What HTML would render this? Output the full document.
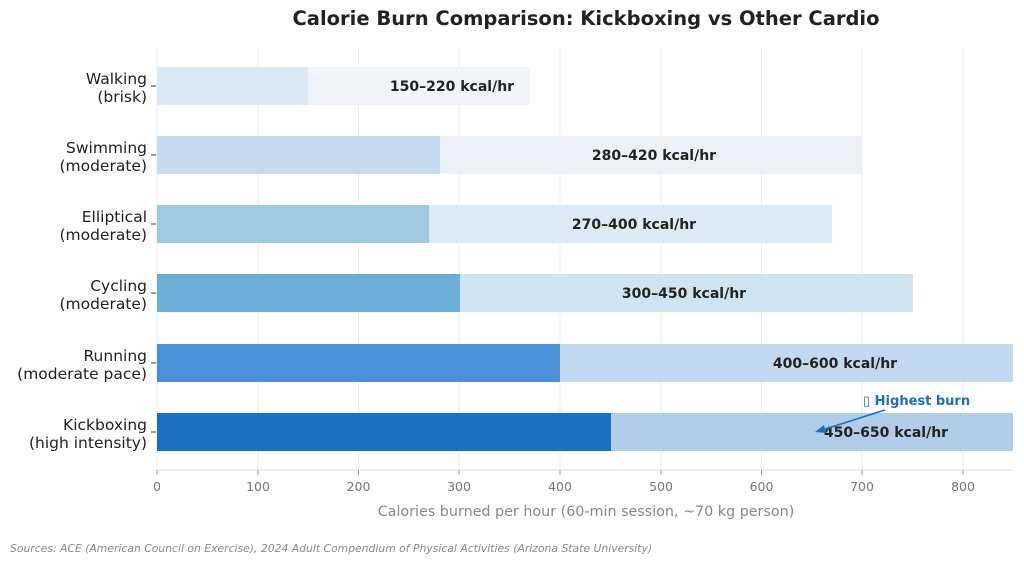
<!DOCTYPE html>
<html><head><meta charset="utf-8"><style>body{margin:0;background:#fff}svg{display:block}</style></head><body>
<svg width="1024" height="564" xmlns="http://www.w3.org/2000/svg" font-family="DejaVu Sans, Liberation Sans, sans-serif">
<text x="586" y="25" text-anchor="middle" font-size="19.5" font-weight="bold" fill="#222">Calorie Burn Comparison: Kickboxing vs Other Cardio</text>
<g stroke="#ebebeb" stroke-width="1">
<line x1="157" y1="48" x2="157" y2="470"/><line x1="258" y1="48" x2="258" y2="470"/><line x1="358.5" y1="48" x2="358.5" y2="470"/><line x1="459" y1="48" x2="459" y2="470"/><line x1="560" y1="48" x2="560" y2="470"/><line x1="661" y1="48" x2="661" y2="470"/><line x1="761.5" y1="48" x2="761.5" y2="470"/><line x1="862" y1="48" x2="862" y2="470"/><line x1="963" y1="48" x2="963" y2="470"/>
</g>
<rect x="157" y="67" width="373" height="38" fill="#f0f5fb"/><rect x="157" y="67" width="151" height="38" fill="#dce9f5"/>
<rect x="157" y="136" width="705" height="38" fill="#eaf1f8"/><rect x="157" y="136" width="283" height="38" fill="#c6dbef"/>
<rect x="157" y="205" width="675" height="38" fill="#dde9f4"/><rect x="157" y="205" width="272" height="38" fill="#9ecae1"/>
<rect x="157" y="274" width="756" height="38" fill="#cfe4f0"/><rect x="157" y="274" width="303" height="38" fill="#6baed6"/>
<rect x="157" y="344" width="856" height="38" fill="#c3d9f1"/><rect x="157" y="344" width="403" height="38" fill="#4a90d9"/>
<rect x="157" y="413" width="856" height="38" fill="#b2cde9"/><rect x="157" y="413" width="454" height="38" fill="#1c6fc2"/>
<line x1="157" y1="470" x2="1013" y2="470" stroke="#ddd"/>
<g font-size="14" font-weight="bold" fill="#222" text-anchor="middle">
<text x="452" y="91">150–220 kcal/hr</text><text x="654" y="160">280–420 kcal/hr</text><text x="634" y="229">270–400 kcal/hr</text><text x="684" y="298">300–450 kcal/hr</text><text x="835" y="368">400–600 kcal/hr</text><text x="886" y="437">450–650 kcal/hr</text>
</g>
<g font-size="15.5" fill="#222" text-anchor="end">
<text x="147" y="84">Walking</text><text x="147" y="102">(brisk)</text>
<text x="147" y="153">Swimming</text><text x="147" y="171">(moderate)</text>
<text x="147" y="222">Elliptical</text><text x="147" y="240">(moderate)</text>
<text x="147" y="291">Cycling</text><text x="147" y="309">(moderate)</text>
<text x="147" y="361">Running</text><text x="147" y="379">(moderate pace)</text>
<text x="147" y="430">Kickboxing</text><text x="147" y="448">(high intensity)</text>
</g>
<g stroke="#333"><line x1="151" y1="86" x2="156" y2="86"/><line x1="151" y1="155" x2="156" y2="155"/><line x1="151" y1="224" x2="156" y2="224"/><line x1="151" y1="293" x2="156" y2="293"/><line x1="151" y1="363" x2="156" y2="363"/><line x1="151" y1="432" x2="156" y2="432"/></g>
<g stroke="#999"><line x1="157" y1="470" x2="157" y2="475"/><line x1="258" y1="470" x2="258" y2="475"/><line x1="358.5" y1="470" x2="358.5" y2="475"/><line x1="459" y1="470" x2="459" y2="475"/><line x1="560" y1="470" x2="560" y2="475"/><line x1="661" y1="470" x2="661" y2="475"/><line x1="761.5" y1="470" x2="761.5" y2="475"/><line x1="862" y1="470" x2="862" y2="475"/><line x1="963" y1="470" x2="963" y2="475"/></g>
<g font-size="12.5" fill="#777" text-anchor="middle">
<text x="157" y="491">0</text><text x="258" y="491">100</text><text x="358.5" y="491">200</text><text x="459" y="491">300</text><text x="560" y="491">400</text><text x="661" y="491">500</text><text x="761.5" y="491">600</text><text x="862" y="491">700</text><text x="963" y="491">800</text>
</g>
<text x="586" y="516" text-anchor="middle" font-size="14.3" fill="#888">Calories burned per hour (60-min session, ~70 kg person)</text>
<text x="10" y="552" font-size="10.8" font-style="italic" fill="#888">Sources: ACE (American Council on Exercise), 2024 Adult Compendium of Physical Activities (Arizona State University)</text>
<text x="863" y="405" font-size="13" font-weight="bold" fill="#1c6fc2">▯ Highest burn</text>
<line x1="885" y1="410" x2="822" y2="430" stroke="#1c6fc2" stroke-width="1.5"/>
<polygon points="815,432 824,425 826,433" fill="#1c6fc2"/>
</svg>
</body></html>
